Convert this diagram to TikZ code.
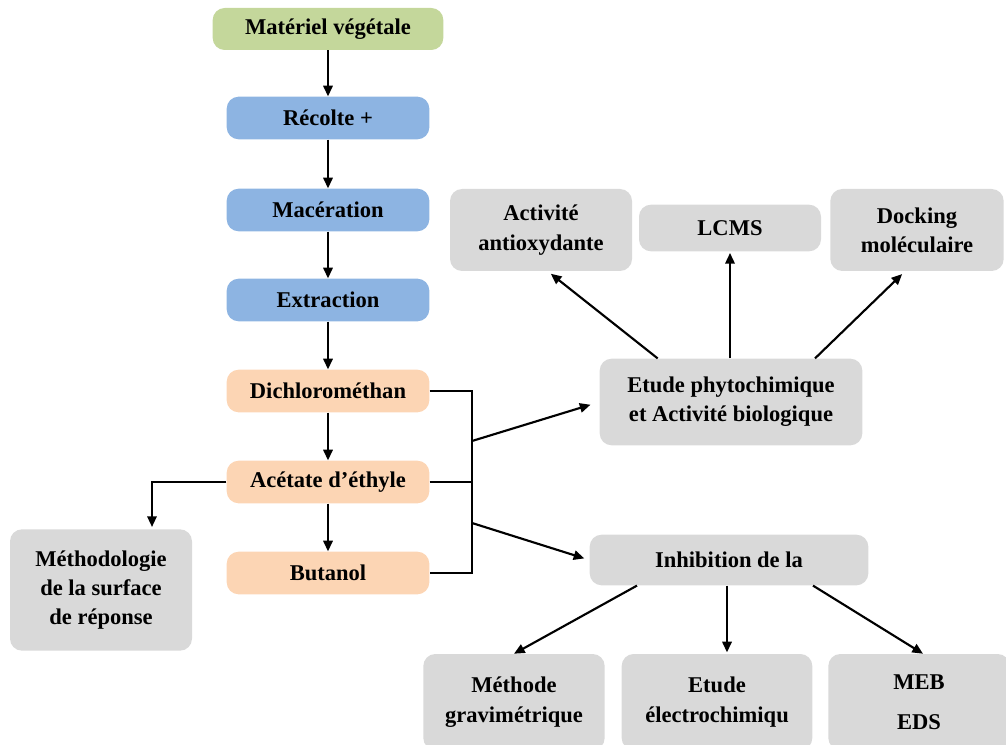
\documentclass[tikz,border=0pt]{standalone}
\usepackage{fontspec}
\setmainfont{Liberation Serif}
\usetikzlibrary{arrows.meta}

\definecolor{vertpale}{HTML}{C4D79B}
\definecolor{bleupale}{HTML}{8DB4E2}
\definecolor{peche}{HTML}{FCD5B4}
\definecolor{grisclair}{HTML}{D9D9D9}

\begin{document}
\begin{tikzpicture}[x=0.75pt,y=-0.75pt,
  boite/.style={rounded corners=9pt, align=center, inner sep=0pt,
    font=\bfseries\fontsize{16.9}{22}\selectfont},
  etape/.style={boite, fill=bleupale, minimum width=152pt, minimum height=32pt},
  fraction/.style={boite, fill=peche, minimum width=152pt, minimum height=32pt},
  analyse/.style={boite, fill=grisclair},
  fleche/.style={-{Triangle[length=8pt,width=7pt]}, line width=1.6pt},
  trait/.style={line width=1.6pt}]
\useasboundingbox (0,0) rectangle (1006,745);
% Colonne principale
\node[boite, fill=vertpale, minimum width=173pt, minimum height=31.5pt] (mat) at (328,29) {Matériel végétale};
\node[etape] (rec) at (328,118) {Récolte +};
\node[etape] (mac) at (328,210) {Macération};
\node[etape] (ext) at (328,300) {Extraction};
\node[fraction] (dcm) at (328,391) {Dichlorométhan};
\node[fraction] (ace) at (328,482) {Acétate d’éthyle};
\node[fraction] (but) at (328,573) {Butanol};
\foreach \a/\b in {mat/rec,rec/mac,mac/ext,ext/dcm,dcm/ace,ace/but}
    \draw[fleche] (\a) -- (\b);
% Surface de réponse
\node[analyse, minimum width=136.5pt, minimum height=91pt] (msr) at (101,590) {Méthodologie\\de la surface\\de réponse};
\coordinate (msrhaut) at (152,527);
\draw[fleche] (ace.west) -| (msrhaut);
% Regroupement des fractions
\draw[trait] (dcm.east) -- ++(42,0) |- (but.east);
\draw[trait] (ace.east) -- ++(42,0);
\coordinate (bus1) at (472,441);
\coordinate (bus2) at (472,523);
% Etude phytochimique
\node[analyse, minimum width=197pt, minimum height=65pt] (phy) at (731,402) {Etude phytochimique\\et Activité biologique};
\node[analyse, minimum width=136.5pt, minimum height=61.5pt] (aox) at (541,230) {Activité\\antioxydante};
\node[analyse, minimum width=136.5pt, minimum height=35pt] (lcms) at (730,228) {LCMS};
\node[analyse, minimum width=130pt, minimum height=61.5pt] (dock) at (917,230) {Docking\\moléculaire};
\draw[fleche, shorten >=7pt] (bus1) -- (phy.west);
\draw[fleche, shorten >=3pt] ([xshift=-55pt]phy.north) -- ([xshift=5pt]aox.south);
\draw[fleche, shorten >=1pt] (lcms.south |- phy.north) -- (lcms.south);
\draw[fleche, shorten >=3pt] ([xshift=63pt]phy.north) -- ([xshift=-9pt]dock.south);
% Inhibition
\node[analyse, minimum width=209pt, minimum height=38pt] (inh) at (729,560) {Inhibition de la};
\node[analyse, minimum width=136pt, minimum height=72pt] (grav) at (514,702) {Méthode\\gravimétrique};
\node[analyse, minimum width=143pt, minimum height=72pt] (elec) at (717,702) {Etude\\électrochimiqu};
\node[analyse, minimum width=136pt, minimum height=72pt] (meb) at (919,702) {MEB\\[8pt]EDS};
\draw[fleche, shorten >=4pt] (bus2) -- (inh.west);
\draw[fleche] ([xshift=-69pt]inh.south) -- (grav.north);
\draw[fleche, shorten >=1pt] ([xshift=-1.5pt]inh.south) -- ([xshift=-1.5pt]inh.south |- elec.north);
\draw[fleche] ([xshift=63pt]inh.south) -- ([xshift=3pt]meb.north);
\end{tikzpicture}
\end{document}
